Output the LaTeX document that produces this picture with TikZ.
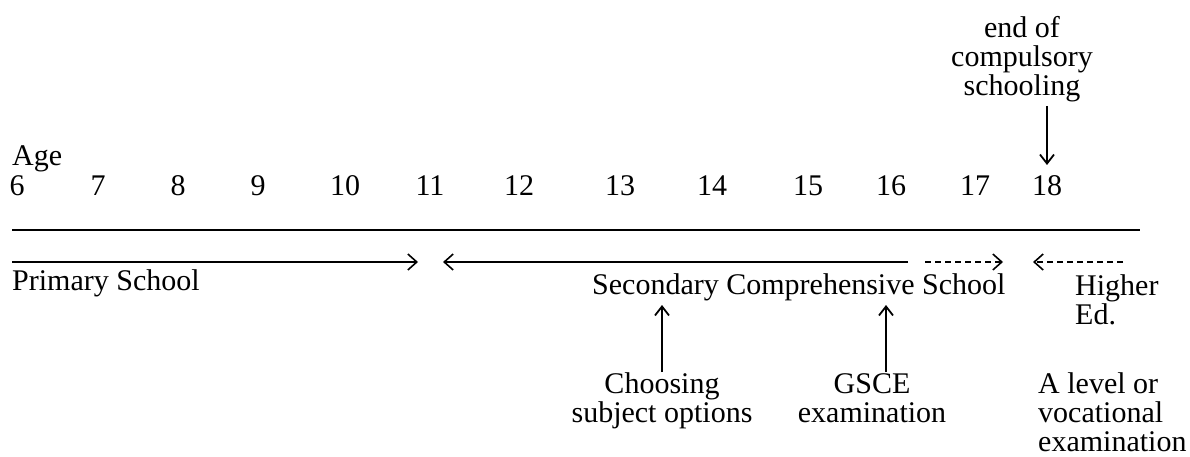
\documentclass[tikz,border=0pt]{standalone}
\usepackage{fontspec}
\setmainfont{Liberation Serif}
\usetikzlibrary{arrows.meta}

\tikzset{
  txt/.style={font=\fontsize{30}{29}\selectfont, inner sep=0pt},
  yr/.style={txt, anchor=base},
  span/.style={-{Straight Barb[length=9pt,width=16pt,line width=1.6pt]}, line width=1.6pt},
  dotspan/.style={span, dash pattern=on 6pt off 4pt},
  pointer/.style={-{Straight Barb[length=9pt,width=14pt,line width=1.8pt]}, line width=1.8pt},
}

\begin{document}
\begin{tikzpicture}[x=1pt,y=-1pt]
\useasboundingbox (0,0) rectangle (1190,457);

% ages along the top
\node[txt, anchor=base west] (age) at (12,166) {Age};
\foreach \a/\x in {6/17,7/98,8/178,9/258,10/345,11/430,12/519,13/620,14/712,15/808,16/891,17/975,18/1047}
  \node[yr] (a\a) at (\x,196) {\a};

\coordinate (rl) at (12,230);
\coordinate (rr) at (1140,230);
\draw[line width=2pt] (rl) -- (rr);

% school stages
\coordinate (p0) at (12,262);   \coordinate (p1) at (418,262);
\coordinate (s0) at (443,262);  \coordinate (s1) at (908,262);
\coordinate (d0) at (925,262);  \coordinate (d1) at (1003,262);
\coordinate (h0) at (1033,262); \coordinate (h1) at (1123,262);
\draw[span] (p0) -- (p1);
\draw[span] (s1) -- (s0);
\draw[dotspan] (d0) -- (d1);
\draw[dotspan] (h1) -- (h0);

\node[txt, anchor=base west] (prim) at (12,290) {Primary School};
\node[txt, anchor=base west] (sec) at (592,294) {Secondary Comprehensive School};
\node[txt, anchor=base west, align=left] (high) at (1075,324) {Higher\\Ed.};

% events
\node[txt, anchor=base, align=center] (end) at (1022,96) {end of\\compulsory\\schooling};
\node[txt, anchor=base, align=center] (opt) at (662,422) {Choosing\\subject options};
\node[txt, anchor=base, align=center] (gsce) at (872,422) {GSCE\\examination};
\node[txt, anchor=base west, align=left] (alev) at (1038,451) {A level or\\vocational\\examination};

\coordinate (o0) at (662,372); \coordinate (o1) at (662,305);
\coordinate (g0) at (886,372); \coordinate (g1) at (886,305);
\coordinate (e0) at (1047,106); \coordinate (e1) at (1047,165);
\draw[pointer] (o0) -- (o1);
\draw[pointer] (g0) -- (g1);
\draw[pointer] (e0) -- (e1);
\end{tikzpicture}
\end{document}
